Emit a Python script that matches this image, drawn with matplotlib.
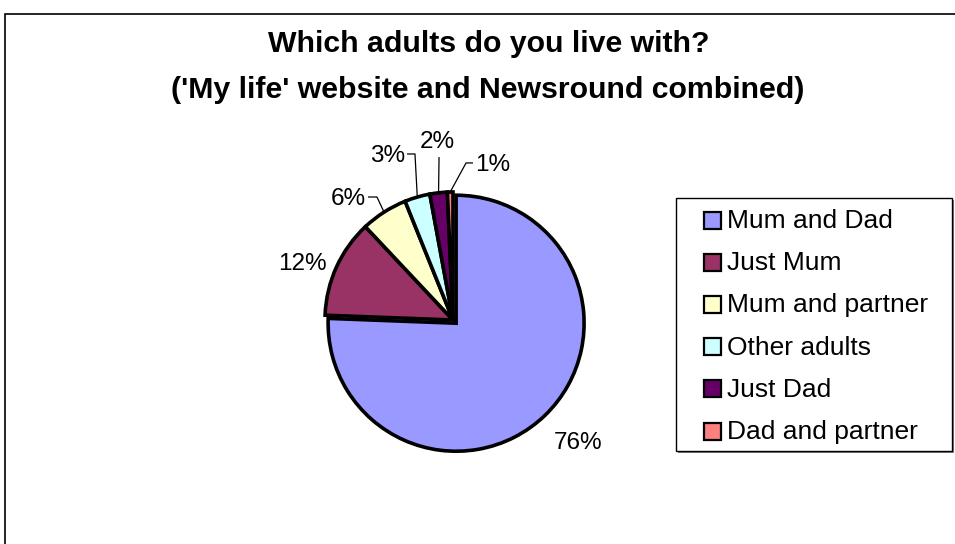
import matplotlib
matplotlib.use('Agg')
import matplotlib.pyplot as plt
from matplotlib.patches import Rectangle
import numpy as np

# ---- data ----
categories = ['Mum and Dad', 'Just Mum', 'Mum and partner', 'Other adults', 'Just Dad', 'Dad and partner']
values = [75.6, 12.4, 5.9, 3.2, 2.2, 0.7]
pct_labels = ['76%', '12%', '6%', '3%', '2%', '1%']
colors = ['#9999FF', '#993366', '#FFFFCC', '#CCFFFF', '#660066', '#FF8080']
title_lines = ["Which adults do you live with?", "('My life' website and Newsround combined)"]

plt.rcParams['font.family'] = ['Liberation Sans', 'DejaVu Sans']

W, H = 955, 544
fig = plt.figure(figsize=(W / 100, H / 100), dpi=100)


def fx(x):
    return x / W


def fy(y):
    return 1 - y / H


# outer chart frame (right and bottom edges fall outside the picture)
fig.patches.append(Rectangle((fx(5), -0.2), 1.2, fy(14) + 0.2,
                             transform=fig.transFigure, fill=False,
                             edgecolor='black', linewidth=1.2, zorder=0))

# ---- pie ----
R = 128.0
cx, cy = 453, 320
ax = fig.add_axes([0, 0, 1, 1])
wedges, _ = ax.pie(values, colors=colors, startangle=90, counterclock=False,
                   explode=[0.035, 0, 0, 0, 0, 0], radius=1,
                   wedgeprops=dict(edgecolor='black', linewidth=2.6, joinstyle='miter'))
ax.set_xlim(-cx / R, (W - cx) / R)
ax.set_ylim(-(H - cy) / R, cy / R)
ax.axis('off')

# label layout (in pie-radius units relative to pie centre)
layout = [
    dict(text=(0.98, -0.94), ha='center'),
    dict(text=(-1.18, 0.455), ha='center'),
    dict(elbow=(-0.594, 0.961), end=(-0.664, 0.961), text=(-0.68, 0.961), ha='right'),
    dict(elbow=(-0.297, 1.297), end=(-0.359, 1.297), text=(-0.375, 1.297), ha='right'),
    dict(elbow=(-0.109, 1.273), text=(-0.12, 1.305), ha='center', va='bottom'),
    dict(elbow=(0.102, 1.227), end=(0.156, 1.227), text=(0.17, 1.227), ha='left'),
]
for w, lab, lay in zip(wedges, pct_labels, layout):
    mid = np.deg2rad((w.theta1 + w.theta2) / 2)
    if 'elbow' in lay:
        edge = (np.cos(mid), np.sin(mid))
        pts = [edge, lay['elbow']]
        if 'end' in lay:
            pts.append(lay['end'])
        xs, ys = zip(*pts)
        ax.plot(xs, ys, color='black', linewidth=0.9, solid_capstyle='butt')
    ax.text(lay['text'][0], lay['text'][1], lab, fontsize=17.5,
            ha=lay.get('ha', 'center'), va=lay.get('va', 'center_baseline'))

# ---- title ----
fig.text(fx(489), fy(52), title_lines[0], fontsize=21.8, fontweight='bold',
         ha='center', va='baseline')
fig.text(fx(488), fy(98), title_lines[1], fontsize=21.8, fontweight='bold',
         ha='center', va='baseline')

# ---- legend (manual, Excel style) ----
lx0, ly0, lx1, ly1 = 676, 198, 952, 451
# shadow
fig.patches.append(Rectangle((fx(lx0 + 2), fy(ly1 + 2)), (lx1 - lx0) / W, (ly1 - ly0) / H,
                             transform=fig.transFigure, facecolor='#808080',
                             edgecolor='none', zorder=1.5))
fig.patches.append(Rectangle((fx(lx0), fy(ly1)), (lx1 - lx0) / W, (ly1 - ly0) / H,
                             transform=fig.transFigure, facecolor='white',
                             edgecolor='black', linewidth=1.0, zorder=2))
row0, drow = 220, 42.2
sq = 17
for i, (cat, col) in enumerate(zip(categories, colors)):
    yc = row0 + i * drow
    fig.patches.append(Rectangle((fx(704), fy(yc + sq / 2)), sq / W, sq / H,
                                 transform=fig.transFigure, facecolor=col,
                                 edgecolor='black', linewidth=1.6, zorder=3))
    fig.text(fx(727), fy(yc + 8), cat, fontsize=19, ha='left', va='baseline', zorder=4)

fig.savefig('out.png', dpi=100)
